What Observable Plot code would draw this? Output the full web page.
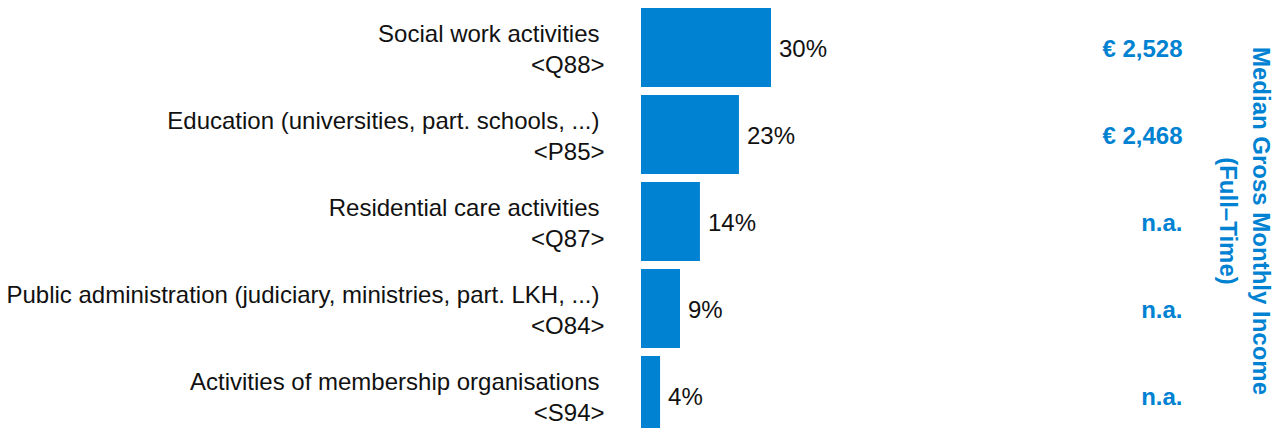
<!DOCTYPE html>
<html>
<head>
<meta charset="utf-8">
<script src="https://cdn.jsdelivr.net/npm/d3@7"></script>
<script src="https://cdn.jsdelivr.net/npm/@observablehq/plot@0.6"></script>
<style>
  html, body { margin: 0; padding: 0; background: #fff; }
  #chart svg { display: block; font-family: "Liberation Sans", Arial, Helvetica, sans-serif; }
</style>
</head>
<body>
<div id="chart"></div>
<script>
const categories = [
  "Social work activities",
  "Education (universities, part. schools, ...)",
  "Residential care activities",
  "Public administration (judiciary, ministries, part. LKH, ...)",
  "Activities of membership organisations"
];
const codes = ["<Q88>", "<P85>", "<Q87>", "<O84>", "<S94>"];
const shares = [30.0, 22.6, 13.6, 9.0, 4.4];
const shareLabels = ["30%", "23%", "14%", "9%", "4%"];
const incomes = ["€ 2,528", "€ 2,468", "n.a.", "n.a.", "n.a."];
const incomeTitle = "Median Gross Monthly Income\n(Full–Time)";

const rows = categories.map((c, i) => ({
  category: c, code: codes[i], share: shares[i], label: shareLabels[i], income: incomes[i]
}));

const blue = "#0082D2";
const fs = 24;

const chart = Plot.plot({
  width: 1282,
  height: 428,
  marginTop: 0,
  marginBottom: 0,
  marginLeft: 641,
  marginRight: 100,
  style: { fontFamily: "'Liberation Sans', Arial, sans-serif", background: "#fff" },
  x: { domain: [0, 30], range: [641, 771], axis: null },
  y: { domain: categories, range: [8, 435], paddingInner: 0.092, paddingOuter: 0, axis: null },
  marks: [
    Plot.barX(rows, { x: "share", y: "category", fill: blue }),
    Plot.text(rows, { x: 0, y: "category", text: "category", textAnchor: "end", lineAnchor: "bottom",
      dx: -42, dy: -6, fontSize: fs, fill: "#111" }),
    Plot.text(rows, { x: 0, y: "category", text: "code", textAnchor: "end", lineAnchor: "bottom",
      dx: -37, dy: 24.5, fontSize: fs, fill: "#111" }),
    Plot.text(rows, { x: "share", y: "category", text: "label", textAnchor: "start", lineAnchor: "middle",
      dx: 7.5, dy: 1.5, fontSize: fs, fill: "#111" }),
    Plot.text(rows, { y: "category", text: "income", frameAnchor: "right", textAnchor: "end", lineAnchor: "middle",
      dy: 1, fontSize: fs, fontWeight: "bold", fill: blue }),
    Plot.text([incomeTitle], { frameAnchor: "right", text: d => d, rotate: 90, textAnchor: "middle", lineAnchor: "middle",
      lineHeight: 1.375, dx: 64.5, dy: 6.5, fontSize: fs, fontWeight: "bold", fill: blue })
  ]
});
document.getElementById("chart").appendChild(chart);
</script>
</body>
</html>
